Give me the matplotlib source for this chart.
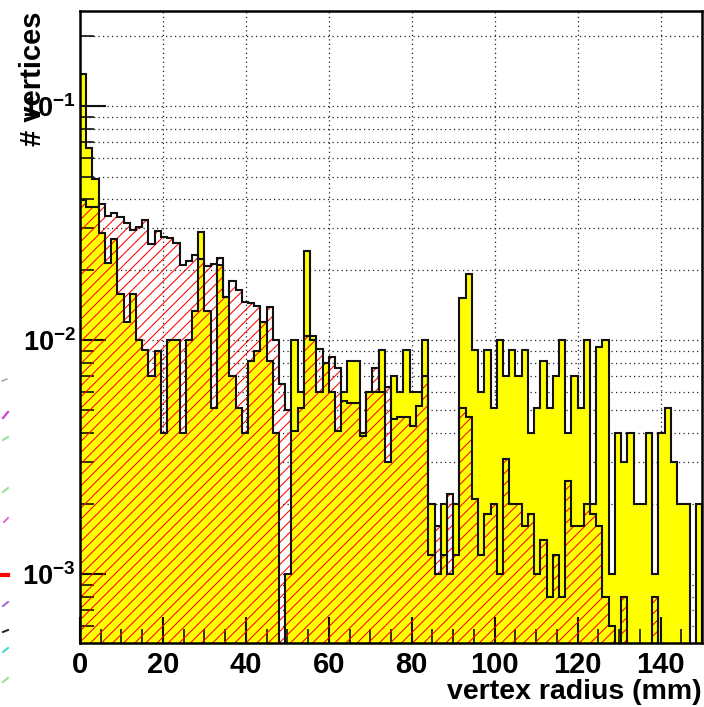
import numpy as np
import matplotlib
matplotlib.use("Agg")
import matplotlib.pyplot as plt
from matplotlib.lines import Line2D
from matplotlib.ticker import LogLocator, FixedLocator, NullFormatter, FuncFormatter

# 100 bins of 1.5 mm between 0 and 150 mm
bin_edges = np.linspace(0.0, 150.0, 101)

# all vertices (yellow, solid)
all_vertices = [
    0.137, 0.066, 0.049, 0.0286, 0.0213, 0.0270, 0.0158, 0.0120, 0.0158, 0.0100,
    0.0091, 0.0070, 0.0090, 0.0040, 0.0100, 0.0100, 0.0040, 0.0100, 0.0133, 0.0291,
    0.0133, 0.0051, 0.0210, 0.0153, 0.0070, 0.0051, 0.0040, 0.0081, 0.0090, 0.0120,
    0.0081, 0.0040, 0.0, 0.0010, 0.0100, 0.0060, 0.0241, 0.0104, 0.0060, 0.0080,
    0.0060, 0.0041, 0.0060, 0.0081, 0.0081, 0.0040, 0.0060, 0.0060, 0.0091, 0.0030,
    0.0070, 0.0060, 0.0091, 0.0060, 0.0060, 0.0100, 0.0020, 0.0010, 0.0020, 0.0010,
    0.0020, 0.0151, 0.0191, 0.0091, 0.0060, 0.0091, 0.0051, 0.0100, 0.0070, 0.0091,
    0.0070, 0.0091, 0.0040, 0.0051, 0.0081, 0.0051, 0.0070, 0.0100, 0.0040, 0.0070,
    0.0051, 0.0100, 0.0020, 0.0093, 0.0100, 0.0010, 0.0040, 0.0030, 0.0040, 0.0020,
    0.0020, 0.0040, 0.0010, 0.0040, 0.0051, 0.0030, 0.0020, 0.0020, 0.0, 0.0020,
]

# selected vertices (red hatched)
selected_vertices = [
    0.0398, 0.0370, 0.0370, 0.0380, 0.0340, 0.0350, 0.0335, 0.0317, 0.0295, 0.0304,
    0.0325, 0.0258, 0.0293, 0.0275, 0.0272, 0.0259, 0.0209, 0.0217, 0.0232, 0.0221,
    0.0207, 0.0211, 0.0225, 0.0153, 0.0178, 0.0164, 0.0145, 0.0144, 0.0140, 0.0120,
    0.0138, 0.0100, 0.0065, 0.0050, 0.0041, 0.0051, 0.0104, 0.0100, 0.0092, 0.0080,
    0.0085, 0.0076, 0.0055, 0.0054, 0.0054, 0.0039, 0.0060, 0.0076, 0.0060, 0.0063,
    0.0046, 0.0047, 0.0047, 0.0043, 0.0052, 0.0070, 0.0012, 0.0016, 0.0012, 0.0022,
    0.0012, 0.0051, 0.0047, 0.0021, 0.0012, 0.0018, 0.0020, 0.0010, 0.0031, 0.0020,
    0.0020, 0.0016, 0.0018, 0.0010, 0.0014, 0.0008, 0.0012, 0.0008, 0.0025, 0.0016,
    0.0016, 0.0020, 0.0018, 0.0016, 0.0008, 0.0006, 0.0, 0.0008, 0.0, 0.0,
    0.0, 0.0, 0.0008, 0.0, 0.0, 0.0, 0.0, 0.0, 0.0, 0.0,
]

x_ticks = [0, 20, 40, 60, 80, 100, 120, 140]
y_min, y_max = 5.07e-4, 0.255
x_min, x_max = 0.0, 150.0

plt.rcParams["font.family"] = ["Liberation Sans", "DejaVu Sans"]
plt.rcParams["font.weight"] = "bold"
plt.rcParams["mathtext.fontset"] = "custom"
plt.rcParams["mathtext.rm"] = "Liberation Sans:bold"
plt.rcParams["mathtext.bf"] = "Liberation Sans:bold"
plt.rcParams["mathtext.it"] = "Liberation Sans:bold"
plt.rcParams["mathtext.default"] = "bf"
plt.rcParams["hatch.linewidth"] = 0.75

W, H = 704, 707
fig = plt.figure(figsize=(W / 100, H / 100), dpi=100)
ax = fig.add_axes([80 / W, 64 / H, 622 / W, 632 / H])
ax.set_yscale("log")
ax.set_xlim(x_min, x_max)
ax.set_ylim(y_min, y_max)

floor = 1e-6
yel = np.array(all_vertices)
sel = np.array(selected_vertices)
yel_draw = np.where(yel > 0, yel, floor)
sel_draw = np.where(sel > 0, sel, floor)

# dotted grid behind the histograms
grid_style = dict(color="#222222", lw=0.9, ls=(0, (1, 2.6)), zorder=0.5)
for v in x_ticks[1:]:
    ax.axvline(v, **grid_style)
for dec in [1e-4, 1e-3, 1e-2, 1e-1]:
    for m in range(1, 10):
        yv = dec * m
        if y_min < yv < y_max:
            ax.axhline(yv, **grid_style)

# yellow histogram
ax.stairs(yel_draw, bin_edges, baseline=floor, fill=True, facecolor="#ffff00",
          edgecolor="none", zorder=1)
ax.stairs(yel_draw, bin_edges, baseline=floor, fill=False, color="#111111",
          lw=1.5, zorder=3)

# hatched histogram on top, no fill
ax.stairs(sel_draw, bin_edges, baseline=floor, fill=True, facecolor="none",
          edgecolor="#ff0000", hatch="///", lw=0, zorder=2)
ax.stairs(sel_draw, bin_edges, baseline=floor, fill=False, color="#111111",
          lw=1.5, zorder=3)

# axes frame and ticks
for sp in ax.spines.values():
    sp.set_linewidth(1.8)
    sp.set_color("black")
    sp.set_zorder(5)

ax.xaxis.set_major_locator(FixedLocator(x_ticks))
ax.xaxis.set_minor_locator(FixedLocator(np.arange(0, 151, 5)))
ax.yaxis.set_major_locator(LogLocator(base=10, numticks=10))
ax.yaxis.set_minor_locator(LogLocator(base=10, subs=np.arange(2, 10), numticks=20))
ax.yaxis.set_minor_formatter(NullFormatter())


def log_label(v, pos):
    e = int(round(np.log10(v)))
    return r"$\mathbf{10^{%d}}$" % e


ax.yaxis.set_major_formatter(FuncFormatter(log_label))
ax.tick_params(axis="both", which="major", direction="in", length=19, width=1.5,
               labelsize=21, color="#111111")
ax.tick_params(axis="both", which="minor", direction="in", length=10, width=1.2,
               color="#111111")
ax.tick_params(axis="x", which="major", pad=6)
ax.tick_params(axis="y", which="major", pad=3, labelsize=19.5)
ax.tick_params(top=False, right=False, which="both")
for lab in ax.get_xticklabels() + ax.get_yticklabels():
    lab.set_fontweight("bold")

ax.set_xlabel("vertex radius (mm)", fontsize=20.5, fontweight="bold", loc="right",
              labelpad=0)
ax.set_ylabel("# vertices", fontsize=21, fontweight="bold", loc="top")
ax.yaxis.set_label_coords(-0.053, 1.0)

# fragments of a neighbouring panel along the left margin
edge_marks = [
    ((2, 7), (381, 379), "#9a9a9a", 1.0),
    ((3, 8), (418, 412), "#d040d0", 1.6),
    ((3, 8), (440, 437), "#90e090", 1.4),
    ((3, 8), (492, 488), "#90e090", 1.4),
    ((4, 8), (522, 518), "#e060e0", 1.4),
    ((0, 8), (575, 575), "#ff0000", 3.0),
    ((3, 8), (606, 602), "#a060e0", 1.4),
    ((3, 8), (632, 630), "#202020", 1.4),
    ((3, 8), (652, 648), "#40d0d0", 1.4),
    ((3, 8), (682, 678), "#90e090", 1.4),
]
for xs, ys, col, lw in edge_marks:
    fig.add_artist(Line2D([x / W for x in xs], [1 - y / H for y in ys],
                          color=col, lw=lw, transform=fig.transFigure))

fig.savefig("out.png", dpi=100)
